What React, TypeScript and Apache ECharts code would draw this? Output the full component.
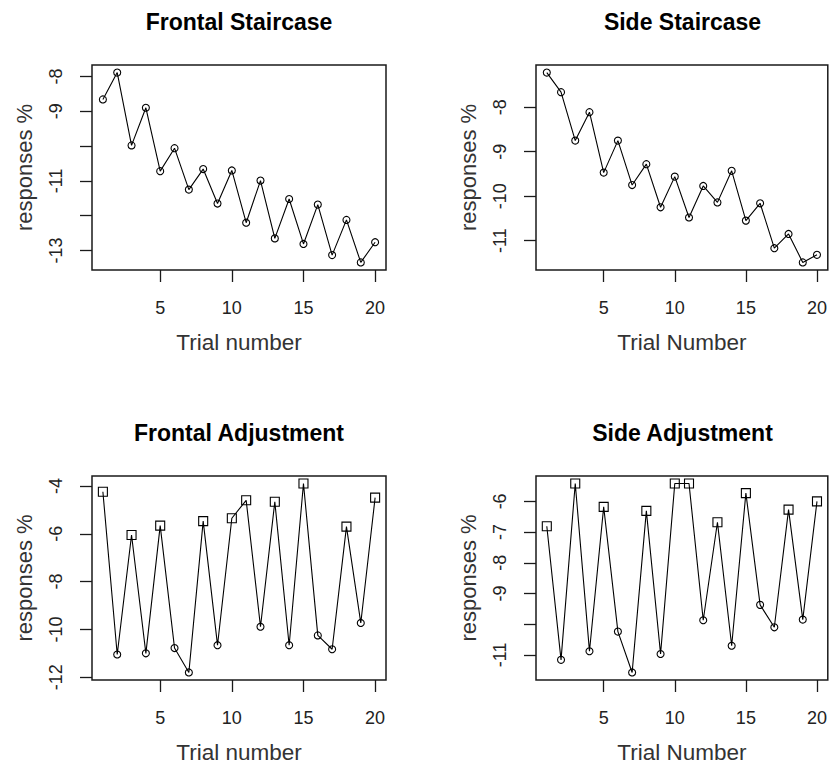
import React, { useEffect, useRef } from "react";
import * as echarts from "echarts";

const trials = [1, 2, 3, 4, 5, 6, 7, 8, 9, 10, 11, 12, 13, 14, 15, 16, 17, 18, 19, 20];

const frontalStaircase = [-8.66, -7.89, -9.98, -8.9, -10.72, -10.06, -11.25, -10.66, -11.65, -10.7, -12.2, -10.99, -12.65, -11.52, -12.81, -11.68, -13.13, -12.12, -13.34, -12.76];
const sideStaircase = [-7.22, -7.66, -8.75, -8.11, -9.47, -8.75, -9.75, -9.28, -10.25, -9.56, -10.48, -9.77, -10.14, -9.43, -10.55, -10.16, -11.17, -10.85, -11.49, -11.32];
const frontalAdjustment = [-4.24, -11.05, -6.05, -11.0, -5.66, -10.78, -11.8, -5.47, -10.66, -5.35, -4.6, -9.89, -4.66, -10.66, -3.9, -10.25, -10.83, -5.7, -9.73, -4.49];
const sideAdjustment = [-6.81, -11.16, -5.42, -10.88, -6.18, -10.24, -11.57, -6.31, -10.97, -5.42, -5.42, -9.87, -6.68, -10.7, -5.73, -9.37, -10.1, -6.27, -9.85, -6.0];

const staircaseMarkers = ["circle", "circle", "circle", "circle", "circle", "circle", "circle", "circle", "circle", "circle", "circle", "circle", "circle", "circle", "circle", "circle", "circle", "circle", "circle", "circle"];
const adjustmentMarkers = ["square", "circle", "square", "circle", "square", "circle", "circle", "square", "circle", "square", "square", "circle", "square", "circle", "square", "circle", "circle", "square", "circle", "square"];

const xTicks = [5, 10, 15, 20];
const fsYTicks = [-13, -12, -11, -10, -9, -8];
const fsYLabels = [-13, -11, -9, -8];
const ssYTicks = [-11, -10, -9, -8];
const ssYLabels = [-11, -10, -9, -8];
const faYTicks = [-12, -10, -8, -6, -4];
const faYLabels = [-12, -10, -8, -6, -4];
const saYTicks = [-11, -10, -9, -8, -7, -6];
const saYLabels = [-11, -9, -8, -7, -6];

const titles = ["Frontal Staircase", "Side Staircase", "Frontal Adjustment", "Side Adjustment"];
const xNames = ["Trial number", "Trial Number", "Trial number", "Trial Number"];
const yName = "responses %";

const FONT = "'Liberation Sans', Arial, Helvetica, sans-serif";

function rExtent(v: number[]): [number, number] {
  const lo = Math.min(...v);
  const hi = Math.max(...v);
  const d = (hi - lo) * 0.04;
  return [lo - d, hi + d];
}

export default function App() {
  const ref = useRef<HTMLDivElement>(null);

  useEffect(() => {
    if (!ref.current) return;
    const chart = echarts.init(ref.current, undefined, { renderer: "svg" });

    const panels = [
      { ys: frontalStaircase, markers: staircaseMarkers, yTicks: fsYTicks, yLabels: fsYLabels },
      { ys: sideStaircase, markers: staircaseMarkers, yTicks: ssYTicks, yLabels: ssYLabels },
      { ys: frontalAdjustment, markers: adjustmentMarkers, yTicks: faYTicks, yLabels: faYLabels },
      { ys: sideAdjustment, markers: adjustmentMarkers, yTicks: saYTicks, yLabels: saYLabels },
    ];
    const layout = [
      { left: 92, top: 65, width: 294 },
      { left: 536, top: 65, width: 293 },
      { left: 92, top: 476, width: 294 },
      { left: 536, top: 476, width: 293 },
    ];
    const H = 205;
    const xExt = rExtent(trials);

    const grid = layout.map((l) => ({
      left: l.left,
      top: l.top,
      width: l.width,
      height: H,
      show: true,
      borderColor: "#1a1a1a",
      borderWidth: 1.5,
      backgroundColor: "transparent",
      containLabel: false,
    }));

    const xAxis = panels.map((p, i) => ({
      type: "value",
      gridIndex: i,
      min: xExt[0],
      max: xExt[1],
      axisLine: { show: false, onZero: false },
      axisTick: { show: true, length: 12, customValues: xTicks, lineStyle: { color: "#1a1a1a", width: 1.3 } },
      axisLabel: { show: true, customValues: xTicks, margin: 29, fontSize: 18, color: "#222", fontFamily: FONT },
      splitLine: { show: false },
      name: xNames[i],
      nameLocation: "middle",
      nameGap: 61,
      nameTextStyle: { fontSize: 22.5, color: "#333", fontFamily: FONT },
    }));

    const yAxis = panels.map((p, i) => {
      const e = rExtent(p.ys);
      return {
        type: "value",
        gridIndex: i,
        min: e[0],
        max: e[1],
        axisLine: { show: false, onZero: false },
        axisTick: { show: true, length: 12, customValues: p.yTicks, lineStyle: { color: "#1a1a1a", width: 1.3 } },
        axisLabel: { show: true, customValues: p.yLabels, rotate: 90, margin: 27, fontSize: 18, color: "#222", fontFamily: FONT },
        splitLine: { show: false },
        name: yName,
        nameLocation: "middle",
        nameGap: 57,
        nameRotate: 90,
        nameTextStyle: { fontSize: 22, color: "#333", fontFamily: FONT },
      };
    });

    const series = panels.map((p, i) => ({
      type: "line",
      xAxisIndex: i,
      yAxisIndex: i,
      showAllSymbol: true,
      silent: true,
      lineStyle: { color: "#000", width: 1.1 },
      itemStyle: { color: "rgba(0,0,0,0)", borderColor: "#000", borderWidth: 1.1 },
      emphasis: { disabled: true },
      data: trials.map((t, j) => ({
        value: [t, p.ys[j]],
        symbol: p.markers[j] === "square" ? "rect" : "circle",
        symbolSize: p.markers[j] === "square" ? 9 : 7,
      })),
    }));

    const graphic = layout.map((l, i) => ({
      type: "text",
      x: l.left + l.width / 2,
      y: l.top - 43,
      style: {
        text: titles[i],
        align: "center",
        verticalAlign: "middle",
        font: `bold 23px ${FONT}`,
        fill: "#000",
      },
    }));

    chart.setOption({
      animation: false,
      backgroundColor: "#fff",
      grid,
      xAxis,
      yAxis,
      series,
      graphic,
    } as any);

    return () => chart.dispose();
  }, []);

  return <div ref={ref} style={{ position: "absolute", left: 0, top: 0, width: 830, height: 765 }} />;
}
